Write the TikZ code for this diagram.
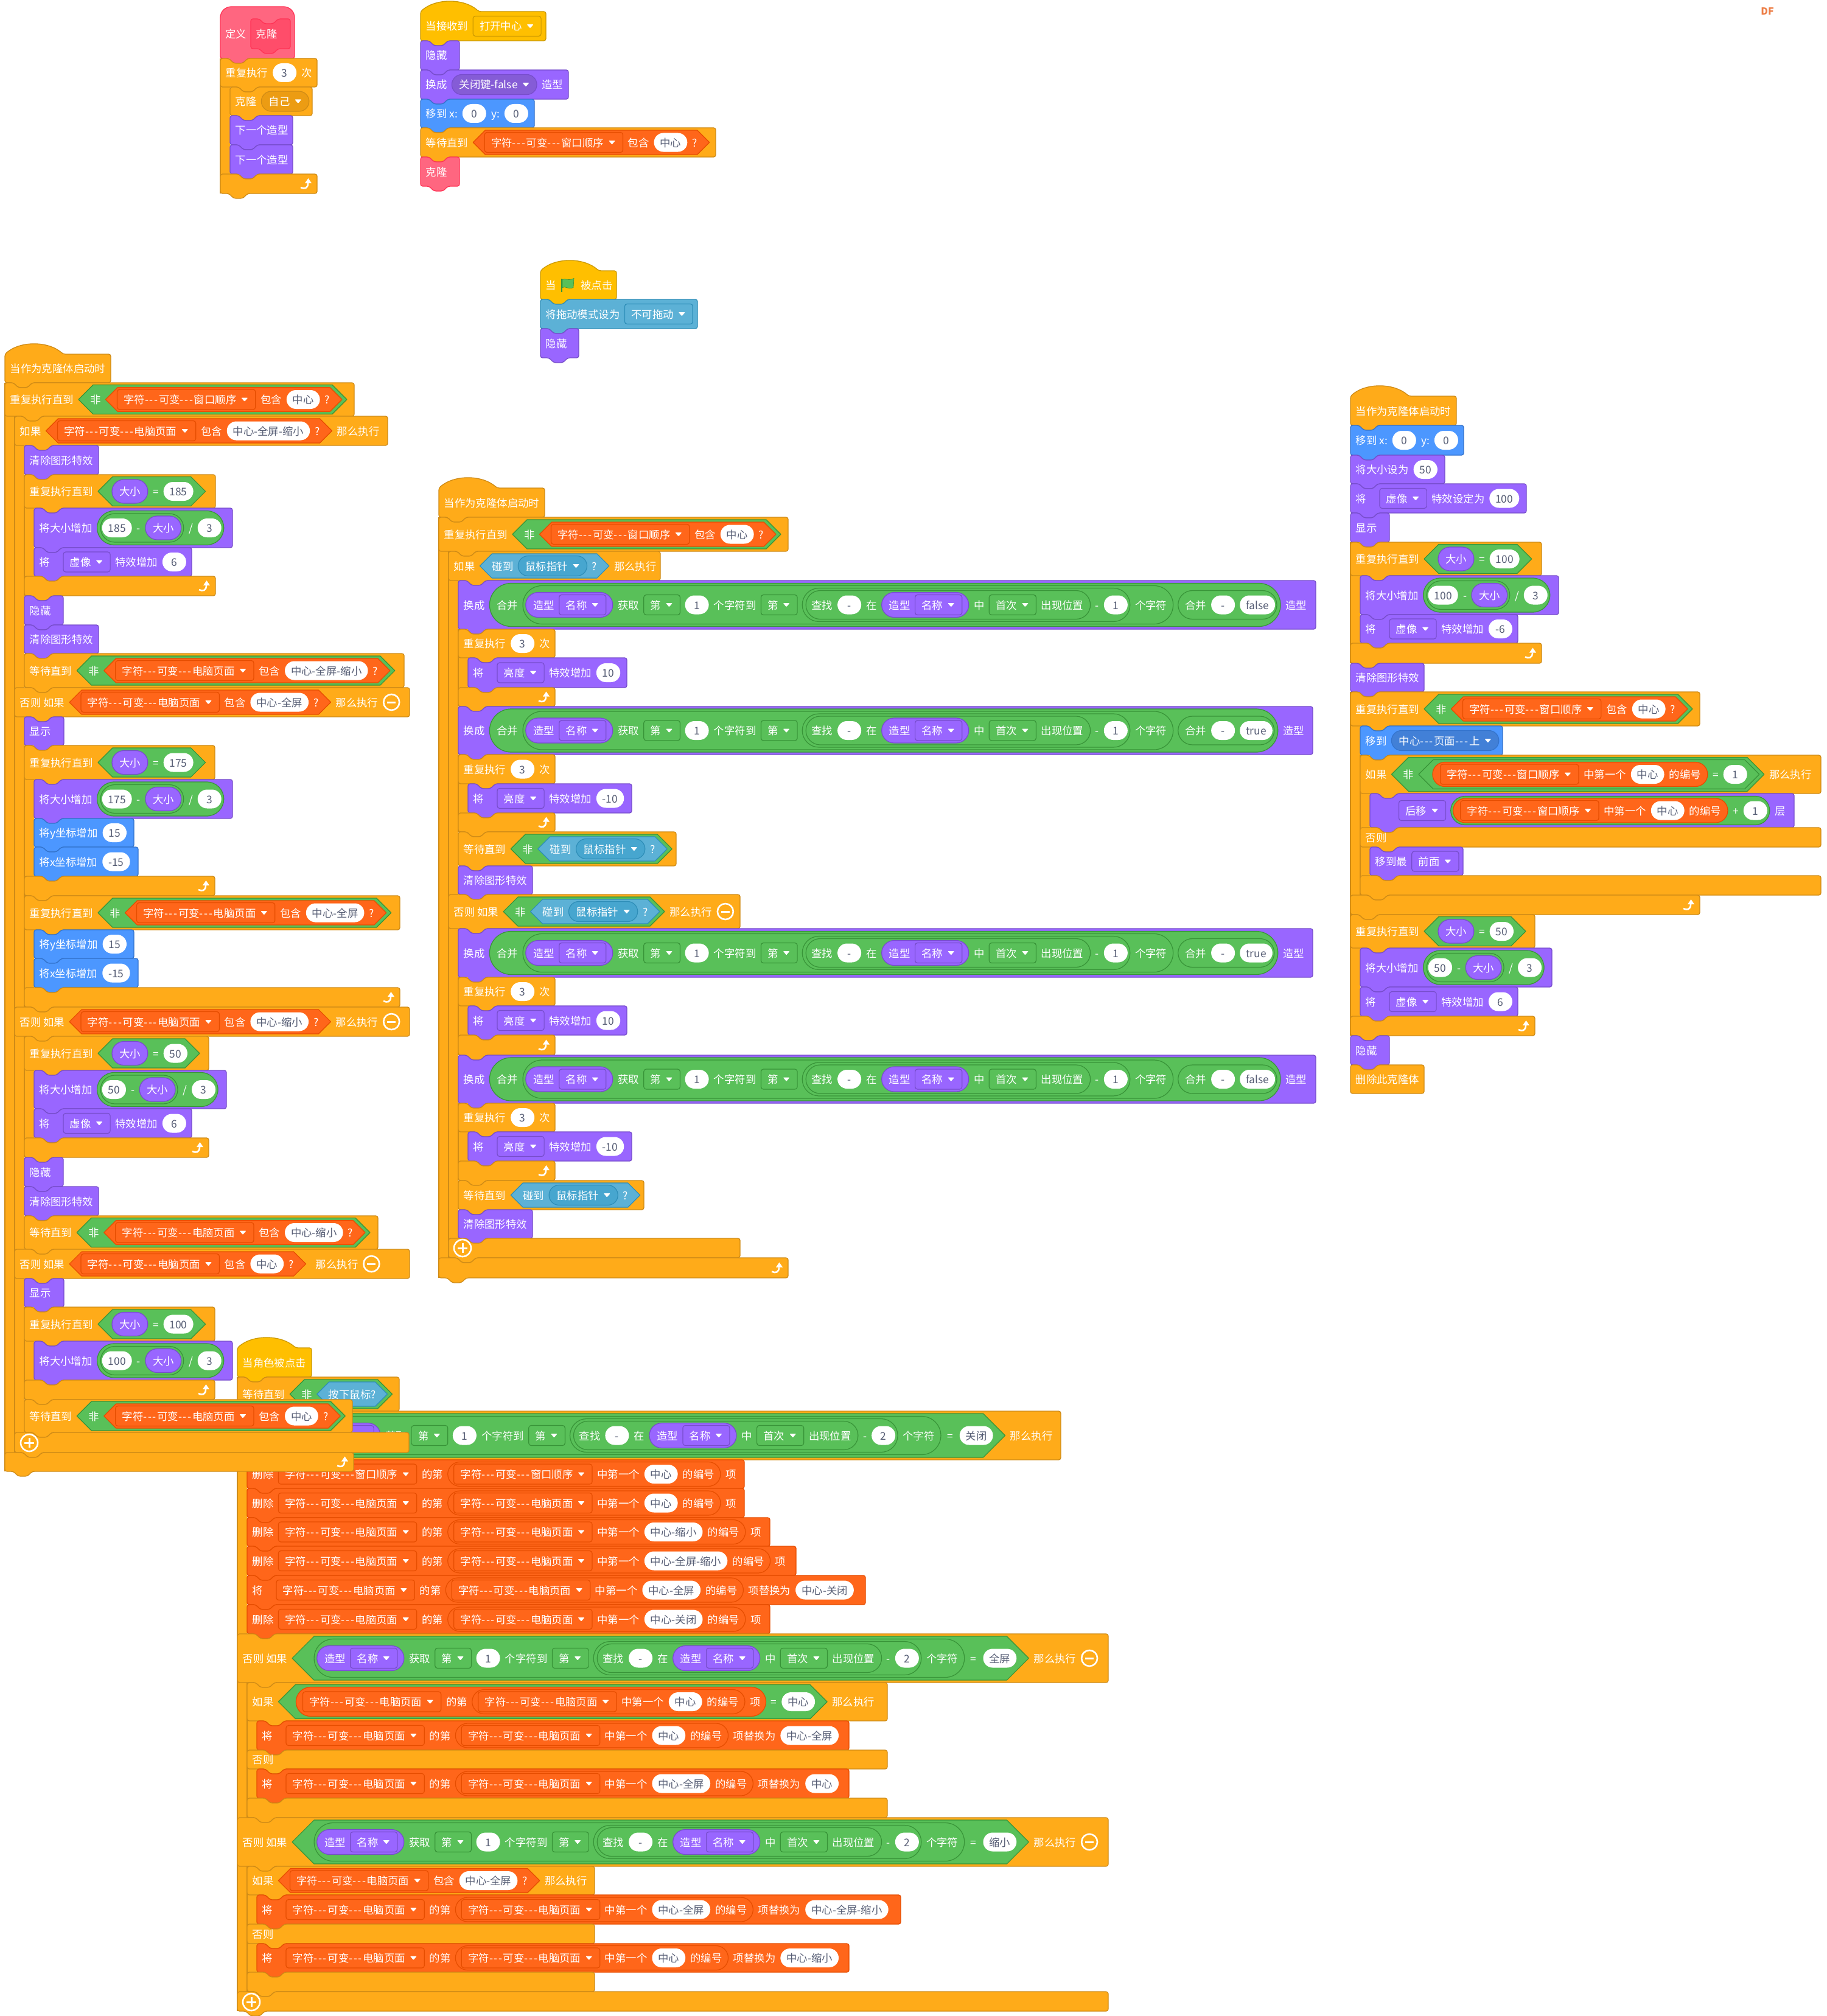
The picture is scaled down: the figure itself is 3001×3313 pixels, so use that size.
\documentclass[tikz,border=0pt]{standalone}
\usepackage{fontspec}
\setmainfont{Noto Sans CJK SC}
\font\rawf="Noto Sans CJK SC" at 17.4pt
\definecolor{ctl}{HTML}{FFAB19}\definecolor{ctlL}{HTML}{CF8B17}\definecolor{ctlD}{HTML}{EC9C13}
\definecolor{loo}{HTML}{9966FF}\definecolor{looL}{HTML}{774DCB}\definecolor{looD}{HTML}{855CD6}
\definecolor{mot}{HTML}{4C97FF}\definecolor{motL}{HTML}{3373CC}\definecolor{motD}{HTML}{4280D7}
\definecolor{sen}{HTML}{5CB1D6}\definecolor{senL}{HTML}{2E8EB8}\definecolor{senD}{HTML}{47A6CF}
\definecolor{ope}{HTML}{59C059}\definecolor{opeL}{HTML}{389438}\definecolor{opeD}{HTML}{46B946}
\definecolor{lst}{HTML}{FF661A}\definecolor{lstL}{HTML}{E64D00}\definecolor{lstD}{HTML}{F2590D}
\definecolor{evt}{HTML}{FFBF00}\definecolor{evtL}{HTML}{CC9900}\definecolor{evtD}{HTML}{E6AC00}
\definecolor{pnk}{HTML}{FF6680}\definecolor{pnkL}{HTML}{FF3355}\definecolor{pnkD}{HTML}{FF4D6A}
\definecolor{pni}{HTML}{FF4D6A}\definecolor{pniL}{HTML}{FF3355}\definecolor{pniD}{HTML}{FF3355}
\definecolor{gtx}{HTML}{575E75}
\newcommand\fnt{\fontsize{17.4}{20}\selectfont}
\makeatletter\def\stp#1{\strip@pt#1}\makeatother
\newif\ifmeas
\newdimen\pen
\newdimen\gapw \gapw=8.1pt
\newdimen\twd
\newbox\tbox
\newcount\nc
\def\cc{ctl}
\tikzset{
 txt/.style={anchor=base west,inner sep=0pt,font=\fnt,text=white},
 mid/.style={anchor=base,inner sep=0pt,font=\fnt,text=gtx},
 lw/.style={line width=1.2pt,line join=round},
 blk/.style={fill=#1,draw=#1L,line width=1.3pt,rounded corners=3.5pt},
 icon/.style={draw=white,line width=2.6pt}
}
% --- inline items
\newcommand\hsp[1]{\global\advance\pen by #1pt\relax}
\newcommand\tx[1]{\setbox\tbox\hbox{\rawf #1}\twd=\wd\tbox
 \edef\px{\stp\pen}\global\advance\pen by \twd\global\advance\pen by \gapw
 \ifmeas\else\global\advance\nc by 1\relax\node[txt] (t\the\nc) at (\px,\cy+7) {#1};\fi}
\newcommand\num[1]{\setbox\tbox\hbox{\rawf #1}\twd=\wd\tbox \advance\twd by 20pt
 \ifdim\twd<39pt \twd=39pt\fi
 \edef\px{\stp\pen}\edef\pw{\stp\twd}\global\advance\pen by \twd\global\advance\pen by \gapw
 \ifmeas\else\global\advance\nc by 1\relax
 \path[fill=white,rounded corners=15.5pt] (\px,\cy-15.5) rectangle (\px+\pw,\cy+15.5);
 \node[mid] (t\the\nc) at (\px+\pw/2,\cy+7) {#1};\fi}
\newcommand\wrapg[5]{\begingroup
 \edef\sx{\stp\pen}%
 \global\advance\pen by #3pt\relax
 \begingroup\meastrue\edef\cc{#2}#5\endgroup
 \global\advance\pen by -\gapw \global\advance\pen by #4pt\relax
 \edef\ex{\stp\pen}%
 \ifmeas\else
  #1%
  \global\pen=\sx pt\relax \global\advance\pen by #3pt\relax
  \edef\cc{#2}#5%
  \global\pen=\ex pt\relax
 \fi
 \global\advance\pen by \gapw
 \endgroup}
\newcommand\lpsh[2]{\pgfmathsetmacro\hh{#2/2}\path[fill=#1,draw=#1L,lw,rounded corners=\hh pt] (\sx,\cy-\hh) rectangle (\ex,\cy+\hh);}
\newcommand\hxsh[2]{\pgfmathsetmacro\hh{#2/2}\path[fill=#1,draw=#1L,lw] (\sx,\cy) -- (\sx+\hh,\cy-\hh) -- (\ex-\hh,\cy-\hh) -- (\ex,\cy) -- (\ex-\hh,\cy+\hh) -- (\sx+\hh,\cy+\hh) -- cycle;}
\newcommand\lp[5]{\wrapg{\lpsh{#1}{#2}}{#1}{#3}{#4}{#5}}
\newcommand\hx[5]{\wrapg{\hxsh{#1}{#2}}{#1}{#3}{#4}{#5}}
\newcommand\ddar{\edef\px{\stp\pen}\global\advance\pen by 11pt\global\advance\pen by \gapw
 \ifmeas\else\path[fill=white,rounded corners=1pt] (\px,\cy-3) -- (\px+11,\cy-3) -- (\px+5.5,\cy+3.5) -- cycle;\fi}
\newcommand\ddsh{\edef\ccl{\cc L}\path[fill=\cc,draw=\ccl,lw,rounded corners=4pt] (\sx,\cy-16.5) rectangle (\ex,\cy+16.5);}
\newcommand\ddrsh{\edef\ccl{\cc L}\edef\ccd{\cc D}\path[fill=\ccd,draw=\ccl,lw,rounded corners=16.5pt] (\sx,\cy-16.5) rectangle (\ex,\cy+16.5);}
\newcommand\dd[1]{\edef\ccs{\cc}\wrapg{\ddsh}{\ccs}{10.7}{12.5}{\tx{#1}\ddar}}
\newcommand\ddr[1]{\edef\ccs{\cc}\wrapg{\ddrsh}{\ccs}{12}{12.5}{\tx{#1}\ddar}}
\newcommand\minusic{\edef\px{\stp\pen}\global\advance\pen by 28pt\global\advance\pen by \gapw
 \ifmeas\else\draw[icon] (\px+14,\cy) circle (13pt);\draw[icon,line width=3pt] (\px+7,\cy) -- (\px+21,\cy);\fi}
\newcommand\flagic{\edef\px{\stp\pen}\global\advance\pen by 24pt\global\advance\pen by \gapw
 \ifmeas\else
 \path[fill=ope,draw=opeL,line width=.6pt] (\px+2,\cy-9) .. controls (\px+7,\cy-12) and (\px+11,\cy-6) .. (\px+21,\cy-11) -- (\px+20,\cy+4) .. controls (\px+12,\cy+8) and (\px+7,\cy+1) .. (\px+2,\cy+4) -- cycle;
 \draw[opeL,line width=2.4pt] (\px+1,\cy-11) -- (\px+1,\cy+11);\fi}
% --- block shapes: colour, x, top, right, bottom, notch x, tab x
\newcommand\shp[7]{\path[blk=#1] (#2,#3) -- (#6+14,#3) -- (#6+22,#3+8) -- (#6+37,#3+8) -- (#6+45,#3) -- (#4,#3) -- (#4,#5) -- (#7+45,#5) -- (#7+37,#5+8) -- (#7+22,#5+8) -- (#7+14,#5) -- (#2,#5) -- cycle;}
\newcommand\setrow[4]{\pen=#2pt\relax\global\advance\pen by 8.5pt\global\pen=\pen\pgfmathsetmacro\cy{(#3+#4)/2}\def\cc{#1}}
\newcommand\bk[6]{\begingroup\shp{#1}{#2}{#3}{#4}{#5}{#2}{#2}\setrow{#1}{#2}{#3}{#5}#6\endgroup}
\newcommand\hdr[6]{\begingroup\pgfmathsetmacro\tb{#2+16}\shp{#1}{#2}{#3}{#4}{#5}{#2}{\tb}\setrow{#1}{#2}{#3}{#5}#6\endgroup}
\newcommand\elsebk[5]{\begingroup\pgfmathsetmacro\tb{#1+16}\shp{ctl}{#1}{#2}{#3}{#4}{\tb}{\tb}\setrow{ctl}{#1}{#2}{#4}#5\endgroup}
\newcommand\ftb[4]{\begingroup\pgfmathsetmacro\tb{#1+16}\shp{ctl}{#1}{#2}{#3}{#4}{\tb}{#1}\endgroup}
\newcommand\ftbr[4]{\ftb{#1}{#2}{#3}{#4}\begin{scope}[shift={(#3-18,{(#2+#4)/2})}]
 \draw[white,line width=2.6pt] (-9,6) .. controls (-3,9) and (3,8) .. (3,-1);
 \path[fill=white] (-2,-1) -- (3.5,-9) -- (9,-1) -- cycle;\end{scope}}
\newcommand\hatb[6]{\begingroup\path[blk=#1] (#2,#3) .. controls (#2+25,#3-22) and (#2+71,#3-22) .. (#2+96,#3) -- (#4,#3) -- (#4,#5) -- (#2+45,#5) -- (#2+37,#5+8) -- (#2+22,#5+8) -- (#2+14,#5) -- (#2,#5) -- cycle;\setrow{#1}{#2}{#3}{#5}#6\endgroup}
\newcommand\capb[6]{\begingroup\path[blk=#1] (#2,#3) -- (#2+14,#3) -- (#2+22,#3+8) -- (#2+37,#3+8) -- (#2+45,#3) -- (#4,#3) -- (#4,#5) -- (#2,#5) -- cycle;\setrow{#1}{#2}{#3}{#5}#6\endgroup}
\newcommand\barb[3]{\path[fill=ctl] (#1,#2) rectangle (#1+16,#3);\draw[ctlL,line width=1.3pt] (#1,#2) -- (#1,#3);}
\newcommand\plusic[2]{\draw[icon] (#1,#2) circle (14pt);\draw[icon,line width=3pt] (#1-8,#2) -- (#1+8,#2) (#1,#2-8) -- (#1,#2+8);}
% --- composite contents
\def\ds{-\kern1.6pt-\kern1.6pt-\kern1.6pt}
\def\ZC{字符\ds 可变\ds 窗口顺序}
\def\ZD{字符\ds 可变\ds 电脑页面}
\newcommand\cont[2]{\hx{lst}{40}{19}{20}{\dd{#1}\tx{包含}\num{#2}\tx{?}}}
\newcommand\notc[2]{\hx{ope}{48}{19}{8}{\tx{非}\cont{#1}{#2}}}
\newcommand\sizep{\lp{loo}{39}{12}{12}{\tx{大小}}}
\newcommand\szeq[1]{\hx{ope}{48}{23}{20}{\sizep\tx{=}\num{#1}}}
\newcommand\grow[2]{\tx{将大小增加}\lp{ope}{56}{5.6}{4}{\lp{ope}{47}{2.5}{4}{\num{#1}\tx{-}\sizep}\tx{/}\num{#2}}}
\newcommand\fx[3][特效增加]{\tx{将}\hsp{14}\dd{#2}\tx{#1}\num{#3}}
\newcommand\ctn{\lp{loo}{41}{12}{11}{\tx{造型}\dd{名称}}}
\newcommand\findp[1]{\lp{ope}{55}{6}{4}{\lp{ope}{47}{9}{11.5}{\tx{查找}\num{-}\tx{在}\ctn\tx{中}\dd{首次}\tx{出现位置}}\tx{-}\num{#1}}}
\newcommand\getn[1]{\lp{ope}{63}{4.7}{10.5}{\ctn\tx{获取}\dd{第}\num{1}\tx{个字符到}\dd{第}\findp{#1}\tx{个字符}}}
\newcommand\merged[1]{\tx{换成}\lp{ope}{71}{11.8}{6}{\tx{合并}\getn{1}\lp{ope}{47}{11.5}{3}{\tx{合并}\num{-}\num{#1}}}\tx{造型}}
\newcommand\condn[2]{\hx{ope}{72}{36}{20}{\getn{#1}\hsp{2}\tx{=}\hsp{3}\num{#2}}}
\newcommand\itm[2]{\lp{lst}{40}{10}{10}{\dd{#1}\tx{中第一个}\num{#2}\tx{的编号}}}
\newcommand\rmr[3]{\tx{删除}\dd{#1}\tx{的第}\itm{#2}{#3}\tx{项}}
\newcommand\repr[4]{\tx{将}\hsp{14}\dd{#1}\tx{的第}\itm{#2}{#3}\tx{项替换为}\num{#4}}
\newcommand\touch{\hx{sen}{40}{20}{20}{\tx{碰到}\ddr{鼠标指针}\tx{?}}}
\newcommand\rept{\tx{重复执行}\num{3}\tx{次}}
\newcommand\rpu{\tx{重复执行直到}}
\begin{document}
\begin{tikzpicture}[x=1pt,y=1pt,yscale=-1]
\useasboundingbox (0,0) rectangle (3001,3313);
\path[fill=white] (0,0) rectangle (3001,3313);
\node[inner sep=0pt,text={rgb,255:red,237;green,125;blue,69},font=\fontsize{16}{18}\selectfont\bfseries] (df) at (2904,19) {DF};
% ===== script: 定义 克隆
\path[fill=pnk,draw=pnkL,line width=1.3pt,rounded corners=18pt] (362,96) -- (362,11) -- (484,11) [rounded corners=3.5pt] -- (484,96) -- (407,96) -- (399,104) -- (384,104) -- (376,96) -- cycle;
\begingroup\pen=370pt\global\pen=\pen\def\cy{56}\tx{定义}\endgroup
\bk{pni}{412}{31}{477}{80}{\tx{克隆}}
\barb{362}{96}{318}
\hdr{ctl}{362}{96}{521}{143}{\rept}
\bk{ctl}{378}{143}{513}{190}{\tx{克隆}\ddr{自己}}
\bk{loo}{378}{190}{481}{238}{\tx{下一个造型}}
\bk{loo}{378}{238}{481}{286}{\tx{下一个造型}}
\ftbr{362}{286}{521}{318}
% ===== script: 当接收到
\hatb{evt}{691}{19}{897}{67}{\tx{当接收到}\dd{打开中心}}
\bk{loo}{691}{67}{755}{115}{\tx{隐藏}}
\bk{loo}{691}{115}{934}{163}{\tx{换成}\ddr{关闭键-false}\tx{造型}}
\bk{mot}{691}{163}{878}{210}{\tx{移到 x:}\num{0}\tx{y:}\num{0}}
\bk{ctl}{691}{210}{1176}{258}{\tx{等待直到}\cont{\ZC}{中心}}
\bk{pnk}{691}{258}{755}{306}{\tx{克隆}}
% ===== script: 绿旗
\hatb{evt}{888}{445}{1013}{492}{\tx{当}\flagic\tx{被点击}}
\bk{sen}{888}{492}{1146}{540}{\tx{将拖动模式设为}\dd{不可拖动}}
\bk{loo}{888}{540}{951}{588}{\tx{隐藏}}
% ===== script F: 当角色被点击
\barb{390}{2263}{3305}
\hatb{evt}{390}{2215}{512}{2263}{\tx{当角色被点击}}
\bk{ctl}{390}{2263}{656}{2319}{\tx{等待直到}\hx{ope}{48}{19}{8}{\tx{非}\hx{sen}{40}{19}{19}{\tx{按下鼠标?}}}}
\hdr{ctl}{390}{2319}{1743}{2399}{\tx{如果}\condn{2}{关闭}\tx{那么执行}}
\bk{lst}{406}{2399}{1223}{2446}{\rmr{\ZC}{\ZC}{中心}}
\bk{lst}{406}{2446}{1223}{2494}{\rmr{\ZD}{\ZD}{中心}}
\bk{lst}{406}{2494}{1265}{2541}{\rmr{\ZD}{\ZD}{中心-缩小}}
\bk{lst}{406}{2541}{1308}{2589}{\rmr{\ZD}{\ZD}{中心-全屏-缩小}}
\bk{lst}{406}{2589}{1422}{2637}{\repr{\ZD}{\ZD}{中心-全屏}{中心-关闭}}
\bk{lst}{406}{2637}{1265}{2685}{\rmr{\ZD}{\ZD}{中心-关闭}}
\elsebk{390}{2685}{1821}{2765}{\tx{否则 如果}\condn{2}{全屏}\tx{那么执行}\minusic}
\barb{406}{2765}{2987}
\hdr{ctl}{406}{2765}{1458}{2828}{\tx{如果}\hx{ope}{56}{29}{20}{\lp{lst}{48}{11}{9}{\dd{\ZD}\tx{的第}\itm{\ZD}{中心}\tx{项}}\tx{=}\num{中心}}\tx{那么执行}}
\bk{lst}{422}{2828}{1395}{2876}{\repr{\ZD}{\ZD}{中心}{中心-全屏}}
\elsebk{406}{2876}{1458}{2907}{\tx{否则}}
\bk{lst}{422}{2907}{1395}{2955}{\repr{\ZD}{\ZD}{中心-全屏}{中心}}
\ftb{406}{2955}{1458}{2987}
\elsebk{390}{2987}{1821}{3067}{\tx{否则 如果}\condn{2}{缩小}\tx{那么执行}\minusic}
\barb{406}{3067}{3273}
\hdr{ctl}{406}{3067}{977}{3114}{\tx{如果}\cont{\ZD}{中心-全屏}\tx{那么执行}}
\bk{lst}{422}{3114}{1480}{3162}{\repr{\ZD}{\ZD}{中心-全屏}{中心-全屏-缩小}}
\elsebk{406}{3162}{977}{3194}{\tx{否则}}
\bk{lst}{422}{3194}{1395}{3241}{\repr{\ZD}{\ZD}{中心}{中心-缩小}}
\ftb{406}{3241}{977}{3273}
\ftb{390}{3273}{1821}{3305}
\plusic{413}{3290}
% ===== script C
\barb{8}{629}{2418}
\hatb{ctl}{8}{582}{182}{629}{\tx{当作为克隆体启动时}}
\hdr{ctl}{8}{629}{582}{684}{\rpu\notc{\ZC}{中心}}
\barb{24}{684}{2387}
\hdr{ctl}{24}{684}{637}{732}{\tx{如果}\cont{\ZD}{中心-全屏-缩小}\tx{那么执行}}
\bk{loo}{40}{732}{162}{780}{\tx{清除图形特效}}
\barb{40}{780}{979}
\hdr{ctl}{40}{780}{354}{835}{\rpu\szeq{185}}
\bk{loo}{56}{835}{382}{900}{\grow{185}{3}}
\bk{loo}{56}{900}{315}{947}{\fx{虚像}{6}}
\ftbr{40}{947}{354}{979}
\bk{loo}{40}{979}{104}{1027}{\tx{隐藏}}
\bk{loo}{40}{1027}{162}{1074}{\tx{清除图形特效}}
\bk{ctl}{40}{1074}{664}{1130}{\tx{等待直到}\notc{\ZD}{中心-全屏-缩小}}
\elsebk{24}{1130}{673}{1178}{\tx{否则 如果}\cont{\ZD}{中心-全屏}\tx{那么执行}\minusic}
\bk{loo}{40}{1178}{105}{1225}{\tx{显示}}
\barb{40}{1225}{1472}
\hdr{ctl}{40}{1225}{353}{1281}{\rpu\szeq{175}}
\bk{loo}{56}{1281}{382}{1345}{\grow{175}{3}}
\bk{mot}{56}{1345}{220}{1392}{\tx{将y坐标增加}\num{15}}
\bk{mot}{56}{1392}{227}{1440}{\tx{将x坐标增加}\num{-15}}
\ftbr{40}{1440}{353}{1472}
\barb{40}{1472}{1655}
\hdr{ctl}{40}{1472}{657}{1528}{\rpu\notc{\ZD}{中心-全屏}}
\bk{mot}{56}{1528}{220}{1575}{\tx{将y坐标增加}\num{15}}
\bk{mot}{56}{1575}{227}{1623}{\tx{将x坐标增加}\num{-15}}
\ftbr{40}{1623}{657}{1655}
\elsebk{24}{1655}{673}{1703}{\tx{否则 如果}\cont{\ZD}{中心-缩小}\tx{那么执行}\minusic}
\barb{40}{1703}{1902}
\hdr{ctl}{40}{1703}{343}{1759}{\rpu\szeq{50}}
\bk{loo}{56}{1759}{372}{1822}{\grow{50}{3}}
\bk{loo}{56}{1822}{315}{1870}{\fx{虚像}{6}}
\ftbr{40}{1870}{343}{1902}
\bk{loo}{40}{1902}{104}{1950}{\tx{隐藏}}
\bk{loo}{40}{1950}{162}{1998}{\tx{清除图形特效}}
\bk{ctl}{40}{1998}{621}{2053}{\tx{等待直到}\notc{\ZD}{中心-缩小}}
\elsebk{24}{2053}{673}{2101}{\tx{否则 如果}\cont{\ZD}{中心}\hsp{8}\tx{那么执行}\minusic}
\bk{loo}{40}{2101}{105}{2148}{\tx{显示}}
\barb{40}{2148}{2300}
\hdr{ctl}{40}{2148}{353}{2204}{\rpu\szeq{100}}
\bk{loo}{56}{2204}{382}{2268}{\grow{100}{3}}
\ftbr{40}{2268}{353}{2300}
\bk{ctl}{40}{2300}{579}{2354}{\tx{等待直到}\notc{\ZD}{中心}}
\ftb{24}{2354}{672}{2387}
\plusic{48}{2371}
\ftbr{8}{2387}{581}{2418}
% ===== script D
\barb{721}{850}{2100}
\hatb{ctl}{721}{802}{895}{850}{\tx{当作为克隆体启动时}}
\hdr{ctl}{721}{850}{1295}{906}{\rpu\notc{\ZC}{中心}}
\barb{737}{906}{2067}
\hdr{ctl}{737}{906}{1085}{954}{\tx{如果}\touch\tx{那么执行}}
\bk{loo}{753}{954}{2162}{1034}{\merged{false}}
\barb{753}{1034}{1161}
\hdr{ctl}{753}{1034}{912}{1081}{\rept}
\bk{loo}{769}{1081}{1030}{1130}{\fx{亮度}{10}}
\ftbr{753}{1130}{912}{1161}
\bk{loo}{753}{1161}{2157}{1240}{\merged{true}}
\barb{753}{1240}{1367}
\hdr{ctl}{753}{1240}{912}{1288}{\rept}
\bk{loo}{769}{1288}{1038}{1336}{\fx{亮度}{-10}}
\ftbr{753}{1336}{912}{1367}
\bk{ctl}{753}{1367}{1111}{1423}{\tx{等待直到}\hx{ope}{48}{19}{8}{\tx{非}\touch}}
\bk{loo}{753}{1423}{875}{1470}{\tx{清除图形特效}}
\elsebk{737}{1470}{1216}{1526}{\tx{否则 如果}\hx{ope}{48}{19}{8}{\tx{非}\touch}\tx{那么执行}\minusic}
\bk{loo}{753}{1526}{2157}{1606}{\merged{true}}
\barb{753}{1606}{1734}
\hdr{ctl}{753}{1606}{912}{1653}{\rept}
\bk{loo}{769}{1653}{1030}{1701}{\fx{亮度}{10}}
\ftbr{753}{1701}{912}{1734}
\bk{loo}{753}{1734}{2162}{1813}{\merged{false}}
\barb{753}{1813}{1940}
\hdr{ctl}{753}{1813}{912}{1860}{\rept}
\bk{loo}{769}{1860}{1038}{1908}{\fx{亮度}{-10}}
\ftbr{753}{1908}{912}{1940}
\bk{ctl}{753}{1940}{1058}{1988}{\tx{等待直到}\touch}
\bk{loo}{753}{1988}{875}{2035}{\tx{清除图形特效}}
\ftb{737}{2035}{1216}{2067}
\plusic{760}{2051}
\ftbr{721}{2067}{1295}{2100}
% ===== script E
\hatb{ctl}{2219}{651}{2393}{699}{\tx{当作为克隆体启动时}}
\bk{mot}{2219}{699}{2405}{748}{\tx{移到 x:}\num{0}\tx{y:}\num{0}}
\bk{loo}{2219}{748}{2374}{795}{\tx{将大小设为}\num{50}}
\bk{loo}{2219}{795}{2508}{843}{\fx[特效设定为]{虚像}{100}}
\bk{loo}{2219}{843}{2283}{891}{\tx{显示}}
\barb{2219}{891}{1090}
\hdr{ctl}{2219}{891}{2533}{946}{\rpu\szeq{100}}
\bk{loo}{2235}{946}{2561}{1010}{\grow{100}{3}}
\bk{loo}{2235}{1010}{2494}{1057}{\fx{虚像}{-6}}
\ftbr{2219}{1057}{2533}{1090}
\bk{loo}{2219}{1090}{2340}{1137}{\tx{清除图形特效}}
\barb{2219}{1137}{1503}
\hdr{ctl}{2219}{1137}{2793}{1193}{\rpu\notc{\ZC}{中心}}
\bk{mot}{2235}{1193}{2469}{1241}{\tx{移到}\ddr{中心\ds 页面\ds 上}}
\barb{2235}{1241}{1471}
\hdr{ctl}{2235}{1241}{2992}{1304}{\tx{如果}\hx{ope}{56}{19}{8}{\tx{非}\hx{ope}{48}{23}{20}{\lp{lst}{40}{12.7}{11}{\dd{\ZC}\tx{中第一个}\num{中心}\tx{的编号}}\tx{=}\num{1}}}\tx{那么执行}}
\bk{loo}{2251}{1304}{2948}{1360}{\hsp{39}\dd{后移}\lp{ope}{47}{4}{4}{\lp{lst}{40}{12}{11}{\dd{\ZC}\tx{中第一个}\num{中心}\tx{的编号}}\tx{+}\num{1}}\tx{层}}
\elsebk{2235}{1360}{2992}{1392}{\tx{否则}}
\bk{loo}{2251}{1392}{2404}{1439}{\tx{移到最}\dd{前面}}
\ftb{2235}{1439}{2992}{1471}
\ftbr{2219}{1471}{2793}{1503}
\barb{2219}{1503}{1702}
\hdr{ctl}{2219}{1503}{2522}{1558}{\rpu\szeq{50}}
\bk{loo}{2235}{1558}{2550}{1622}{\grow{50}{3}}
\bk{loo}{2235}{1622}{2494}{1670}{\fx{虚像}{6}}
\ftbr{2219}{1670}{2522}{1702}
\bk{loo}{2219}{1702}{2283}{1750}{\tx{隐藏}}
\capb{ctl}{2219}{1750}{2340}{1797}{\tx{删除此克隆体}}
\end{tikzpicture}
\end{document}
